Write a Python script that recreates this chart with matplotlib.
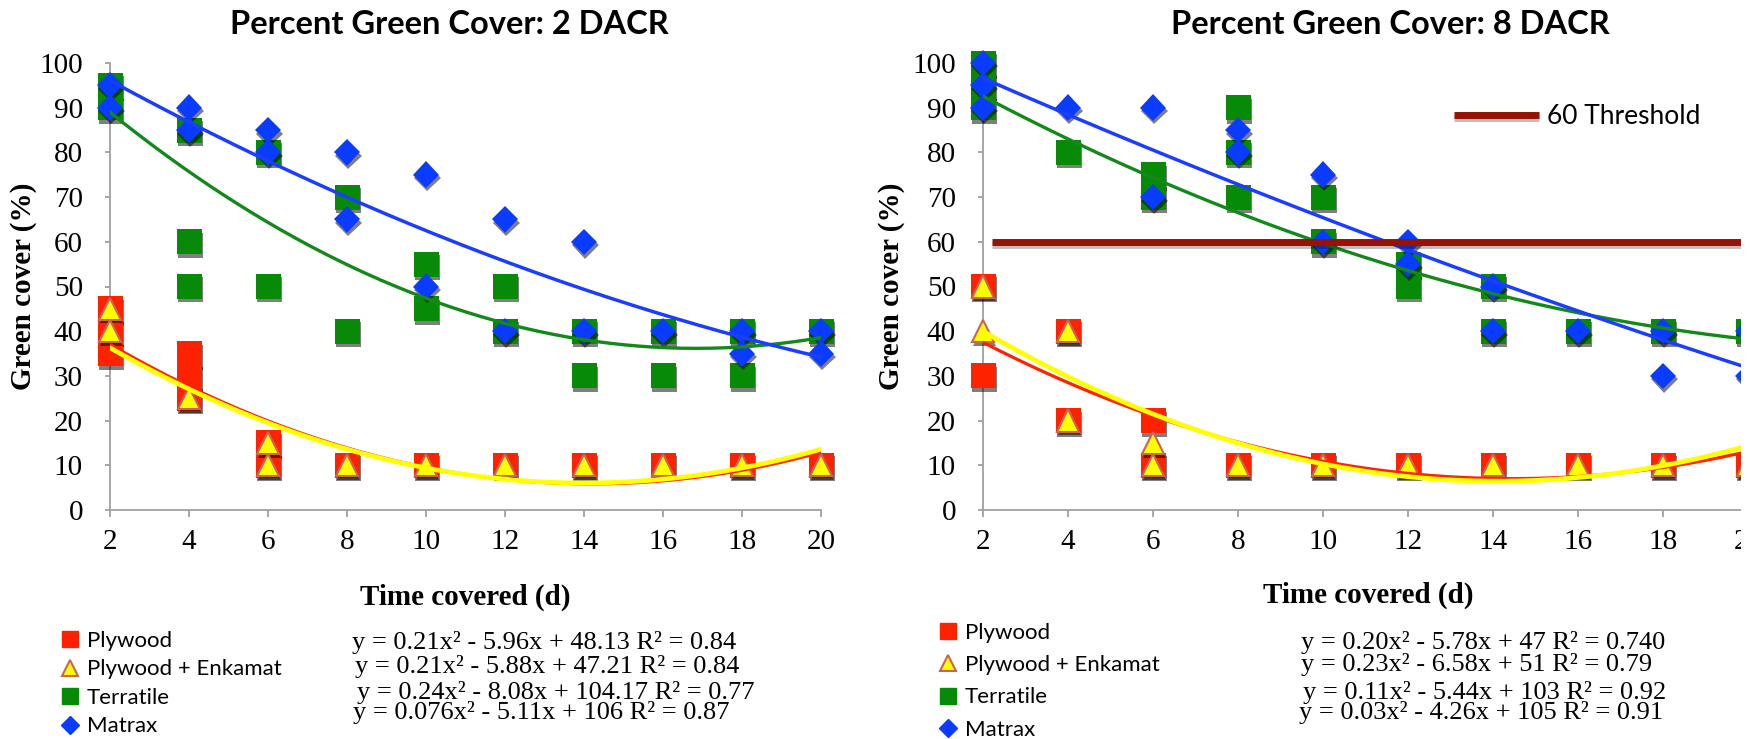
import numpy as np
import matplotlib
matplotlib.use('Agg')
import matplotlib.pyplot as plt
import matplotlib.patheffects as pe
from matplotlib.lines import Line2D
from matplotlib.patches import Rectangle

plt.rcParams['font.family'] = ['Liberation Serif', 'DejaVu Serif']

# ---- data ----
days = [2, 4, 6, 8, 10, 12, 14, 16, 18, 20]

# 2 DACR
ply_x_2 = [2, 2, 2, 4, 4, 4, 6, 6, 8, 10, 12, 14, 16, 18, 20]
ply_y_2 = [45, 40, 35, 35, 30, 25, 15, 10, 10, 10, 10, 10, 10, 10, 10]
enk_x_2 = [2, 2, 4, 6, 6, 8, 10, 12, 14, 16, 18, 20]
enk_y_2 = [45, 40, 25, 15, 10, 10, 10, 10, 10, 10, 10, 10]
ter_x_2 = [2, 2, 4, 4, 4, 6, 6, 8, 8, 10, 10, 12, 12, 14, 14, 16, 16, 18, 18, 20]
ter_y_2 = [95, 90, 85, 60, 50, 80, 50, 70, 40, 55, 45, 50, 40, 40, 30, 40, 30, 40, 30, 40]
mat_x_2 = [2, 2, 4, 4, 6, 6, 8, 8, 10, 10, 12, 12, 14, 14, 16, 18, 18, 20, 20]
mat_y_2 = [95, 90, 90, 85, 85, 80, 80, 65, 75, 50, 65, 40, 60, 40, 40, 40, 35, 40, 35]

# 8 DACR
ply_x_8 = [2, 2, 4, 4, 6, 6, 8, 10, 12, 14, 16, 18, 20]
ply_y_8 = [50, 30, 40, 20, 20, 10, 10, 10, 10, 10, 10, 10, 10]
enk_x_8 = [2, 2, 4, 4, 6, 6, 8, 10, 12, 14, 16, 18, 20]
enk_y_8 = [50, 40, 40, 20, 15, 10, 10, 10, 10, 10, 10, 10, 10]
ter_x_8 = [2, 2, 2, 4, 6, 6, 8, 8, 8, 10, 10, 12, 12, 14, 14, 16, 18, 20]
ter_y_8 = [100, 95, 90, 80, 75, 70, 90, 80, 70, 70, 60, 55, 50, 50, 40, 40, 40, 40]
mat_x_8 = [2, 2, 2, 4, 6, 6, 8, 8, 10, 10, 12, 12, 14, 14, 16, 18, 18, 20, 20]
mat_y_8 = [100, 95, 90, 90, 90, 70, 85, 80, 75, 60, 60, 55, 50, 40, 40, 40, 30, 40, 30]

# quadratic trendline coefficients (a, b, c) of the drawn curves
coef_2 = {
    'Plywood': [0.21, -5.96, 48.13],
    'Plywood + Enkamat': [0.21, -5.88, 47.21],
    'Terratile': [0.24, -8.08, 104.17],
    'Matrax': [0.076, -5.11, 106],
}
# the printed 8 DACR equations are rounded; these follow the drawn curves
coef_8 = {
    'Plywood': [0.197, -5.69, 48.1],
    'Plywood + Enkamat': [0.229, -6.46, 52.0],
    'Terratile': [0.11, -5.44, 103],
    'Matrax': [0.03, -4.26, 105],
}
eq_text_2 = ['y = 0.21x² - 5.96x + 48.13 R² = 0.84',
             'y = 0.21x² - 5.88x + 47.21 R² = 0.84',
             'y = 0.24x² - 8.08x + 104.17 R² = 0.77',
             'y = 0.076x² - 5.11x + 106 R² = 0.87']
eq_text_8 = ['y = 0.20x² - 5.78x + 47 R² = 0.740',
             'y = 0.23x² - 6.58x + 51 R² = 0.79',
             'y = 0.11x² - 5.44x + 103 R² = 0.92',
             'y = 0.03x² - 4.26x + 105 R² = 0.91']
threshold_x = [2.2, 20]
threshold_y = [60, 60]

# ---- styling ----
RED = '#ff2200'
YEL = '#ffff00'
TRI_EDGE = '#c8645a'
GRN = '#078a07'
GRN_LINE = '#13891a'
BLU = '#0a3cff'
BLU_LINE = '#1a3dff'
THR = '#961205'
AXC = '#a0a0a0'
SANS = ['Lato', 'DejaVu Sans']

shadow = [pe.SimplePatchShadow(offset=(1, -2.5), shadow_rgbFace='black', alpha=0.5), pe.Normal()]

fig = plt.figure(figsize=(17.5, 7.39), dpi=100)
ax1 = fig.add_axes([110 / 1750, 1 - 510 / 739, 711 / 1750, 447 / 739])
ax2 = fig.add_axes([983 / 1750, 1 - 510 / 739, 765 / 1750, 447 / 739])


def draw_panel(ax, ply, enk, ter, mat, coefs):
    kw = dict(linestyle='none', clip_on=False, path_effects=shadow)
    ax.plot(ply[0], ply[1], marker='s', ms=18, mfc=RED, mec=RED, mew=0, zorder=3, **kw)
    ax.plot(enk[0], enk[1], marker='^', ms=16, mfc=YEL, mec=TRI_EDGE, mew=1.5, zorder=4, **kw)
    ax.plot(ter[0], ter[1], marker='s', ms=18, mfc=GRN, mec=GRN, mew=0, zorder=5, **kw)
    ax.plot(mat[0], mat[1], marker='D', ms=13.5, mfc=BLU, mec=BLU, mew=0, zorder=6, **kw)

    xs = np.linspace(days[0], days[-1], 200)
    ax.plot(xs, np.polyval(coefs['Plywood'], xs), color=RED, lw=2.3, zorder=7)
    ax.plot(xs, np.polyval(coefs['Plywood + Enkamat'], xs), color=YEL, lw=3.4, zorder=8)
    ax.plot(xs, np.polyval(coefs['Terratile'], xs), color=GRN_LINE, lw=2.4, zorder=9)
    ax.plot(xs, np.polyval(coefs['Matrax'], xs), color=BLU_LINE, lw=2.5, zorder=10)

    ax.set_xlim(2, 20)
    ax.set_ylim(0, 100)
    ax.set_xticks(days)
    ax.set_yticks(range(0, 101, 10))
    for s in ['top', 'right']:
        ax.spines[s].set_visible(False)
    for s in ['left', 'bottom']:
        ax.spines[s].set_color(AXC)
        ax.spines[s].set_linewidth(1.3)
    ax.tick_params(axis='both', colors=AXC, labelcolor='black', width=1.3,
                   labelsize=21, direction='out')
    ax.tick_params(axis='x', pad=9, length=5)
    ax.tick_params(axis='y', pad=16, length=3.5)
    ax.set_xlabel('Time covered (d)', fontsize=21, fontweight='bold')
    ax.set_ylabel('Green cover (%)', fontsize=21, fontweight='bold')
    ax.xaxis.label.set_va('center')
    ax.yaxis.label.set_va('center')


draw_panel(ax1, (ply_x_2, ply_y_2), (enk_x_2, enk_y_2), (ter_x_2, ter_y_2),
           (mat_x_2, mat_y_2), coef_2)
draw_panel(ax2, (ply_x_8, ply_y_8), (enk_x_8, enk_y_8), (ter_x_8, ter_y_8),
           (mat_x_8, mat_y_8), coef_8)

ax1.xaxis.set_label_coords(0.5, -0.195)
ax1.yaxis.set_label_coords(-0.121, 0.5)
ax2.xaxis.set_label_coords(0.503, -0.19)
ax2.yaxis.set_label_coords(-0.12, 0.5)

# threshold line on the 8 DACR chart
ax2.plot(threshold_x, threshold_y, color=THR, lw=5, zorder=11, solid_capstyle='butt',
         label='60 Threshold',
         path_effects=[pe.SimpleLineShadow(offset=(0, -2), alpha=0.25), pe.Normal()])
ax2.legend(loc='center left', bbox_to_anchor=(0.585, 0.88), frameon=False,
           handlelength=3.2, handletextpad=0.3,
           prop={'family': SANS, 'size': 19})

# titles
fig.text(449 / 1750, 1 - 25 / 739, 'Percent Green Cover: 2 DACR', ha='center', va='center',
         fontsize=23.5, fontweight='bold', family=SANS)
fig.text(1390 / 1750, 1 - 25 / 739, 'Percent Green Cover: 8 DACR', ha='center', va='center',
         fontsize=23.5, fontweight='bold', family=SANS)

# series legends under each chart
names = ['Plywood', 'Plywood + Enkamat', 'Terratile', 'Matrax']
handles = [
    Line2D([], [], linestyle='none', marker='s', ms=12, mfc=RED, mec=RED),
    Line2D([], [], linestyle='none', marker='^', ms=12, mfc=YEL, mec=TRI_EDGE, mew=1.5),
    Line2D([], [], linestyle='none', marker='s', ms=12, mfc=GRN, mec=GRN),
    Line2D([], [], linestyle='none', marker='D', ms=9, mfc=BLU, mec=BLU),
]
fig.legend(handles, names, loc='upper left', bbox_to_anchor=(40 / 1750, 1 - 611 / 739),
           frameon=False, handlelength=0.9, handletextpad=0.3, labelspacing=0.38,
           prop={'family': SANS, 'size': 16})
fig.legend(handles, names, loc='upper left', bbox_to_anchor=(918 / 1750, 1 - 603 / 739),
           frameon=False, handlelength=0.9, handletextpad=0.3, labelspacing=0.55,
           prop={'family': SANS, 'size': 16})

# trendline equations
for txt, yc, xo in zip(eq_text_2, [642, 666, 692, 713], [352, 355, 357, 353]):
    fig.text(xo / 1750, 1 - yc / 739, txt, ha='left', va='center', fontsize=19)
for txt, yc, xo in zip(eq_text_8, [642, 665, 692, 713], [1301, 1301, 1303, 1299]):
    fig.text(xo / 1750, 1 - yc / 739, txt, ha='left', va='center', fontsize=19)

# the original image is cropped just before the right end of the second chart
fig.add_artist(Rectangle((1741 / 1750, 0), 9 / 1750, 1, transform=fig.transFigure,
                         facecolor='white', edgecolor='none', zorder=100))

fig.savefig('out.png', dpi=100)
